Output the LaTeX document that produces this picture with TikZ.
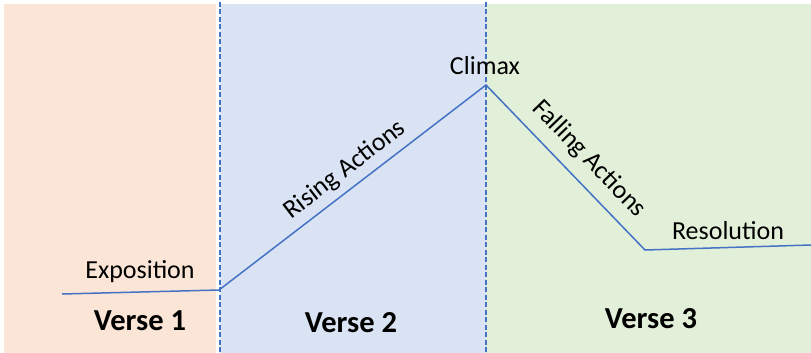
\documentclass[tikz,border=0pt]{standalone}
\usepackage{fontspec}
\setmainfont{Carlito}
\usepackage{xcolor}
\usepackage{tikz}
\usetikzlibrary{positioning, calc, backgrounds}
\definecolor{expofill}{HTML}{FBE5D6}
\definecolor{risefill}{HTML}{DAE3F3}
\definecolor{fallfill}{HTML}{E2F0D9}
\definecolor{plotblue}{HTML}{4472C4}
\tikzstyle{stage} = [inner sep=0pt, font=\fontsize{26}{30}\selectfont]
\tikzstyle{verse} = [inner sep=0pt, font=\fontsize{30.5}{34}\selectfont\bfseries]
\tikzstyle{plotline} = [plotblue, line width=1.5pt, line join=miter]
\tikzstyle{divider} = [plotblue, line width=1.5pt, dash pattern=on 5pt off 2.5pt]

\begin{document}
\begin{tikzpicture}[x=1pt, y=-1pt]
\useasboundingbox (0,0) rectangle (811,353);

% Backgrounds
\fill[expofill] (4,4) rectangle (216,353);
\fill[risefill] (220,4) rectangle (486,353);
\fill[fallfill] (486,4) rectangle (811,353);

% Dividers
\draw[divider] (220,2) -- (220,353);
\draw[divider] (486,2) -- (486,353);

% Plot points
\coordinate (start) at (62,294);
\coordinate (expo) at (219,290);
\coordinate (peak) at (486,85);
\coordinate (low) at (645,250);
\coordinate (finish) at (811,245);

\draw[plotline] (start) -- (expo) -- (peak) -- (low) -- (finish);

% Labels
\node (exposition) [stage] at (140,272) {Exposition};
\node (climax) [stage] at (485,66) {Climax};
\node (rising) [stage, rotate=37.5] at (345,170) {Rising Actions};
\node (falling) [stage, rotate=-46] at (589,159) {Falling Actions};
\node (resolution) [stage] at (728,231) {Resolution};

% Verses
\node (verse1) [verse] at (140,321) {Verse 1};
\node (verse2) [verse] at (351,323) {Verse 2};
\node (verse3) [verse] at (651,319) {Verse 3};

\end{tikzpicture}
\end{document}
